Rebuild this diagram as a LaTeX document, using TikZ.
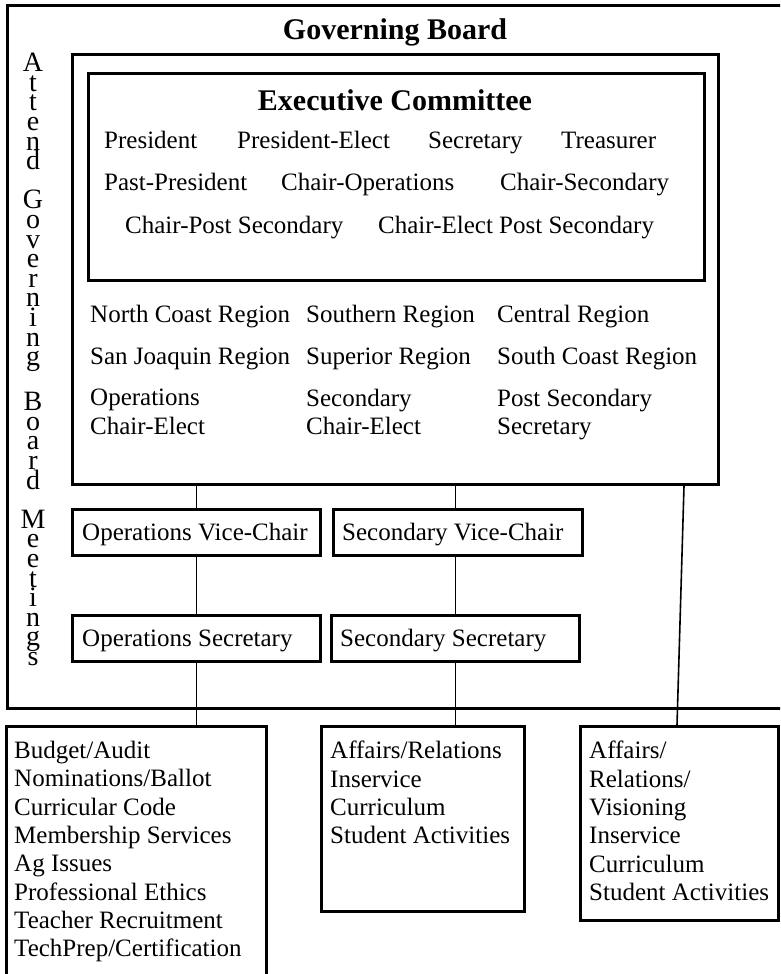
\documentclass[tikz,border=0pt]{standalone}
\usepackage{fontspec}
\setmainfont{Liberation Serif}
\begin{document}
\begin{tikzpicture}[x=1pt,y=-1pt,
  bx/.style={draw, line width=3pt, inner sep=0pt, anchor=north west, rectangle},
  conn/.style={line width=1.6pt},
  txt/.style={inner sep=0pt, anchor=base west, font=\fontsize{25}{28.3}\selectfont},
  lst/.style={inner sep=0pt, anchor=north west, align=left, font=\fontsize{25}{28.3}\selectfont},
  ttl/.style={inner sep=0pt, anchor=base, font=\fontsize{30}{34}\selectfont\bfseries}]
\useasboundingbox (0,0) rectangle (780,974);
\begin{scope}
\clip (0,0) rectangle (780,974);
% outer governing board frame (open on the right, beyond the page)
\coordinate (gbtr) at (790,6);
\coordinate (gbbl) at (7,708);
\draw[line width=3pt] (gbtr) -| (gbbl) -- (gbbl -| gbtr);
% boxes
\node[bx, minimum width=646pt, minimum height=430pt] (regions) at (71,53) {};
\node[bx, minimum width=616pt, minimum height=207pt] (exec) at (87,72) {};
\node[bx, minimum width=248pt, minimum height=46pt] (opsvc) at (71,508) {};
\node[bx, minimum width=249pt, minimum height=46pt] (secvc) at (332,508) {};
\node[bx, minimum width=248pt, minimum height=46pt] (opssec) at (71,614) {};
\node[bx, minimum width=248pt, minimum height=46pt] (secsec) at (330,614) {};
\node[bx, minimum width=260pt, minimum height=300pt] (leftb) at (5,725) {};
\node[bx, minimum width=203pt, minimum height=185pt] (midb) at (320,725) {};
\node[bx, minimum width=198pt, minimum height=194pt] (rightb) at (579,725) {};
% titles
\node[ttl] (gbt) at (395,40) {Governing Board};
\node[ttl] (ext) at (395,110) {Executive Committee};
% vertical text
\node[inner sep=0pt, anchor=north, align=center,
  font=\fontsize{28}{19.6}\selectfont] (vert) at (33,53)
  {A\\t\\t\\e\\n\\d\\[19.6pt]G\\o\\v\\e\\r\\n\\i\\n\\g\\[19.6pt]B\\o\\a\\r\\d\\[19.6pt]M\\e\\e\\t\\i\\n\\g\\s};
% executive members
\node[txt] (p1) at (104,148) {President};
\node[txt] (p2) at (237,148) {President-Elect};
\node[txt] (p3) at (428,148) {Secretary};
\node[txt] (p4) at (561,148) {Treasurer};
\node[txt] (p5) at (104,190) {Past-President};
\node[txt] (p6) at (281,190) {Chair-Operations};
\node[txt] (p7) at (500,190) {Chair-Secondary};
\node[txt] (p8) at (125,233) {Chair-Post Secondary};
\node[txt] (p9) at (378,233) {Chair-Elect Post Secondary};
% regions
\node[txt] (r1) at (90,322) {North Coast Region};
\node[txt] (r2) at (306,322) {Southern Region};
\node[txt] (r3) at (497,322) {Central Region};
\node[txt] (r4) at (90,364) {San Joaquin Region};
\node[txt] (r5) at (306,364) {Superior Region};
\node[txt] (r6) at (497,364) {South Coast Region};
\node[lst] (r7) at (90,389) {Operations\\Chair-Elect};
\node[lst] (r8) at (306,389) {Secondary\\Chair-Elect};
\node[lst] (r9) at (497,389) {Post Secondary\\Secretary};
% small boxes text
\node[txt] (t1) at (82,540) {Operations Vice-Chair};
\node[txt] (t2) at (342,540) {Secondary Vice-Chair};
\node[txt] (t3) at (82,646) {Operations Secretary};
\node[txt] (t4) at (340,646) {Secondary Secretary};
% bottom lists
\node[lst] (l1) at (14,741) {Budget/Audit\\Nominations/Ballot\\Curricular Code\\Membership Services\\Ag Issues\\Professional Ethics\\Teacher Recruitment\\TechPrep/Certification};
\node[lst] (l2) at (330,741) {Affairs/Relations\\Inservice\\Curriculum\\Student Activities};
\node[lst] (l3) at (589,741) {Affairs/\\Relations/\\Visioning\\Inservice\\Curriculum\\Student Activities};
% connectors
\draw[conn] (regions.south -| opsvc.north) -- (opsvc.north);
\draw[conn] (opsvc.south) -- (opssec.north);
\draw[conn] (opssec.south) -- (opssec.south |- leftb.north);
\draw[conn] (secsec.north |- regions.south) -- (secsec.north |- secvc.north);
\draw[conn] (secsec.north |- secvc.south) -- (secsec.north);
\draw[conn] (secsec.south) -- (secsec.south |- midb.north);
\draw[conn] ([xshift=-36pt]regions.south east) -- ([xshift=98pt]rightb.north west);
\end{scope}
\end{tikzpicture}
\end{document}
